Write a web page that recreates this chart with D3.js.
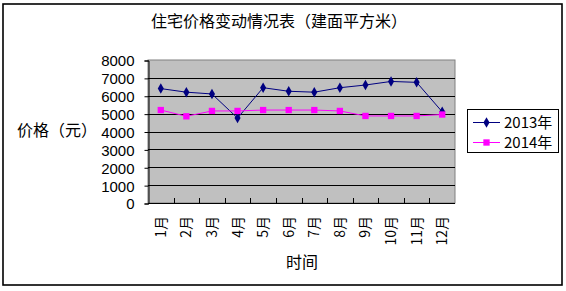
<!DOCTYPE html>
<html>
<head>
<meta charset="utf-8">
<script src="https://cdn.jsdelivr.net/npm/d3@7"></script>
<style>
  body { margin: 0; background: #fff; }
  text { font-family: "Noto Sans CJK SC", sans-serif; fill: #000; }
</style>
</head>
<body>
<script>
// months, tick values and the two series
var months = ["1月","2月","3月","4月","5月","6月","7月","8月","9月","10月","11月","12月"];
var yTicks = [0,1000,2000,3000,4000,5000,6000,7000,8000];
var seriesNames = ["2013年","2014年"];
var price2013 = [6400,6200,6100,4750,6450,6250,6200,6450,6600,6800,6750,5100];
var price2014 = [5200,4850,5150,5150,5200,5200,5200,5150,4870,4870,4870,4950];

var WIDTH = 566, HEIGHT = 291;
var PLOT_L = 148, PLOT_R = 455, PLOT_T = 60, PLOT_B = 203;

var svg = d3.select("body").append("svg")
  .attr("width", WIDTH)
  .attr("height", HEIGHT);

// outer frame
svg.append("rect")
  .attr("x", 3).attr("y", 4)
  .attr("width", 559).attr("height", 281)
  .attr("fill", "#fff")
  .attr("stroke", "#000")
  .attr("stroke-width", 1.6);

var x = d3.scaleBand().domain(months).range([PLOT_L, PLOT_R]);
var y = d3.scaleLinear().domain([0, 8000]).range([PLOT_B, PLOT_T]);

// plot background
svg.append("rect")
  .attr("x", PLOT_L).attr("y", PLOT_T)
  .attr("width", PLOT_R - PLOT_L).attr("height", PLOT_B - PLOT_T)
  .attr("fill", "#c0c0c0")
  .attr("stroke", "#808080");

// gridlines
svg.selectAll("line.grid")
  .data(yTicks.slice(1, -1))
  .enter().append("line")
  .attr("class", "grid")
  .attr("x1", PLOT_L).attr("x2", PLOT_R)
  .attr("y1", d => Math.round(y(d)) + 0.5)
  .attr("y2", d => Math.round(y(d)) + 0.5)
  .attr("stroke", "#000");

// y axis
var yAxis = svg.append("g")
  .attr("transform", "translate(" + (PLOT_L + 0.5) + ",0.5)")
  .call(d3.axisLeft(y).tickValues(yTicks).tickSize(4).tickPadding(10).tickFormat(d3.format("d")));
yAxis.select(".domain").attr("stroke", "#000");
yAxis.selectAll("text")
  .style("font-family", "'Liberation Sans', sans-serif")
  .style("font-size", "15px")
  .attr("dy", "0.36em");

// x axis: ticks at category boundaries, pointing into the plot
svg.append("line")
  .attr("x1", PLOT_L).attr("x2", PLOT_R)
  .attr("y1", PLOT_B + 0.5).attr("y2", PLOT_B + 0.5)
  .attr("stroke", "#000");
svg.selectAll("line.xtick")
  .data(months.slice(1))
  .enter().append("line")
  .attr("class", "xtick")
  .attr("x1", d => Math.round(x(d)) + 0.5)
  .attr("x2", d => Math.round(x(d)) + 0.5)
  .attr("y1", PLOT_B - 5).attr("y2", PLOT_B)
  .attr("stroke", "#000");

svg.selectAll("text.month")
  .data(months)
  .enter().append("text")
  .attr("class", "month")
  .attr("transform", d => "translate(" + (x(d) + x.bandwidth() / 2 + 5) + "," + 216 + ") rotate(-90)")
  .attr("text-anchor", "end")
  .style("font-size", "14px")
  .text(d => d);

// titles
svg.append("text")
  .attr("x", 279).attr("y", 27)
  .attr("text-anchor", "middle")
  .style("font-size", "16px")
  .text("住宅价格变动情况表（建面平方米）");

svg.append("text")
  .attr("x", 17).attr("y", 136)
  .style("font-size", "16px")
  .text("价格（元）");

svg.append("text")
  .attr("x", 302).attr("y", 268)
  .attr("text-anchor", "middle")
  .style("font-size", "16px")
  .text("时间");

// series
var colors = ["#000080", "#ff00ff"];
var allSeries = [price2013, price2014];
var line = d3.line()
  .x((d, i) => x(months[i]) + x.bandwidth() / 2)
  .y(d => y(d));

allSeries.forEach((vals, k) => {
  svg.append("path")
    .datum(vals)
    .attr("d", line)
    .attr("fill", "none")
    .attr("stroke", colors[k])
    .attr("stroke-width", 1);
});

var diamond = d3.symbol().type(d3.symbolDiamond).size(32);
var square = d3.symbol().type(d3.symbolSquare).size(40);

svg.selectAll("path.m2013")
  .data(price2013)
  .enter().append("path")
  .attr("class", "m2013")
  .attr("d", diamond)
  .attr("transform", (d, i) => "translate(" + (x(months[i]) + x.bandwidth() / 2) + "," + y(d) + ")")
  .attr("fill", colors[0]);

svg.selectAll("path.m2014")
  .data(price2014)
  .enter().append("path")
  .attr("class", "m2014")
  .attr("d", square)
  .attr("transform", (d, i) => "translate(" + (x(months[i]) + x.bandwidth() / 2) + "," + y(d) + ")")
  .attr("fill", colors[1]);

// legend
var lg = svg.append("g");
lg.append("rect")
  .attr("x", 467.5).attr("y", 109.5)
  .attr("width", 91).attr("height", 43)
  .attr("fill", "#fff")
  .attr("stroke", "#000");

seriesNames.forEach((name, k) => {
  var ly = 122 + k * 20;
  lg.append("line")
    .attr("x1", 473).attr("x2", 500)
    .attr("y1", ly + 0.5).attr("y2", ly + 0.5)
    .attr("stroke", colors[k]);
  lg.append("path")
    .attr("d", k === 0 ? diamond : square)
    .attr("transform", "translate(486.5," + (ly + 0.5) + ")")
    .attr("fill", colors[k]);
  lg.append("text")
    .attr("x", 504).attr("y", ly + 6)
    .style("font-size", "15px")
    .text(name);
});
</script>
</body>
</html>
